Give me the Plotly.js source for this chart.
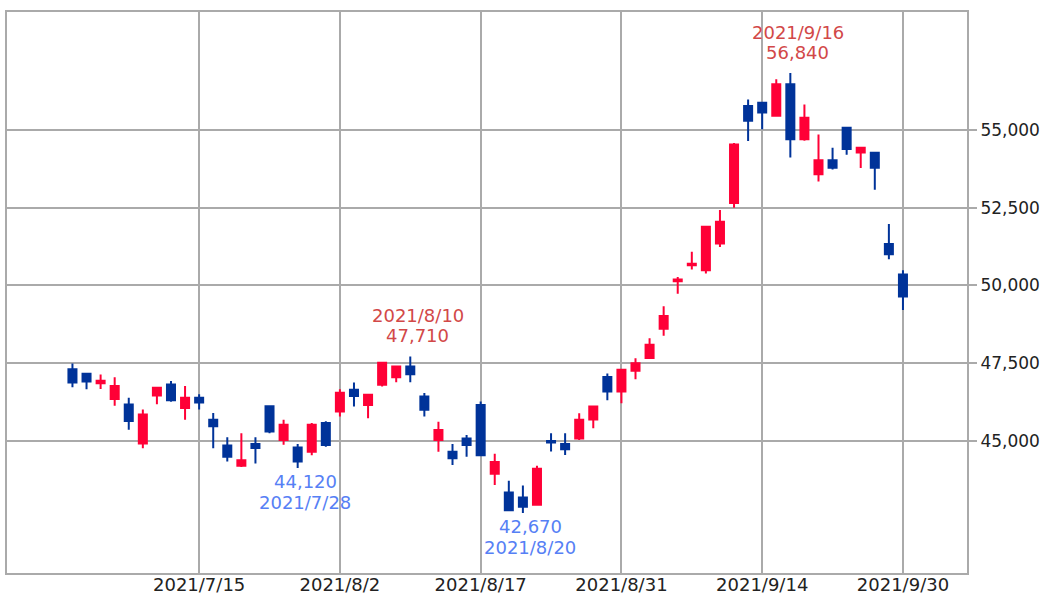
<!DOCTYPE html>
<html>
<head>
<meta charset="utf-8">
<script src="https://cdn.plot.ly/plotly-3.0.1.min.js"></script>
<style>
  html, body { margin: 0; padding: 0; background: #ffffff; }
  #chart { width: 1046px; height: 597px; }
</style>
</head>
<body>
<div id="chart"></div>
<script>
// Trading days (category axis)
var dates = ['2021/7/2','2021/7/5','2021/7/6','2021/7/7','2021/7/8','2021/7/9','2021/7/12','2021/7/13','2021/7/14','2021/7/15',
  '2021/7/16','2021/7/19','2021/7/20','2021/7/21','2021/7/26','2021/7/27','2021/7/28','2021/7/29','2021/7/30','2021/8/2',
  '2021/8/3','2021/8/4','2021/8/5','2021/8/6','2021/8/10','2021/8/11','2021/8/12','2021/8/13','2021/8/16','2021/8/17',
  '2021/8/18','2021/8/19','2021/8/20','2021/8/23','2021/8/24','2021/8/25','2021/8/26','2021/8/27','2021/8/30','2021/8/31',
  '2021/9/1','2021/9/2','2021/9/3','2021/9/6','2021/9/7','2021/9/8','2021/9/9','2021/9/10','2021/9/13','2021/9/14',
  '2021/9/15','2021/9/16','2021/9/17','2021/9/21','2021/9/22','2021/9/24','2021/9/27','2021/9/28','2021/9/29','2021/9/30'];

var openVals = [47300,47150,46850,46340,46160,44910,46450,46810,46050,46380,
  45670,44840,44190,44890,46110,45020,44780,44640,45570,45940,
  46640,46150,46800,47040,47390,46420,45020,44640,45070,46150,
  43930,43330,43170,42930,44990,44890,45070,45680,47050,46580,
  47250,47660,48600,50130,50650,50490,51350,52650,55780,55880,
  55460,56480,54710,53580,54030,55080,54280,54270,51330,50350];

var highVals = [47480,47160,47130,47040,46380,46000,46710,46920,46760,46490,
  45890,45110,45240,45110,46110,45670,44890,45570,45620,46650,
  46870,46480,47510,47400,47710,46530,45610,44890,45180,46260,
  44580,43710,43550,44190,45240,45240,45880,46100,47160,47280,
  47650,48300,49330,50270,51080,51890,52430,54590,55990,55880,
  56640,56840,55830,54860,54430,55080,54460,54270,51980,50490];

var lowVals = [46720,46650,46660,46120,45350,44750,46170,46250,45670,46000,
  44750,44330,44150,44260,45240,44870,44120,44530,44800,45780,
  46100,45720,46740,46880,46880,45780,44640,44210,44480,44530,
  43570,42760,42670,42900,44650,44540,45020,45400,46300,46200,
  46980,47660,48380,49730,50510,50380,51240,52500,54650,55030,
  55460,54120,54660,53350,53730,54210,53780,53080,50840,49210];

var closeVals = [46870,46900,46930,46760,45630,45840,46700,46300,46380,46230,
  45460,44480,44370,44760,45290,45510,44330,45510,44860,46540,
  46440,46480,47510,47390,47140,45990,45340,44430,44860,44530,
  44310,42760,42870,44090,44940,44720,45670,46100,46580,47280,
  47490,48090,49010,50190,50700,51890,52050,54540,55300,55570,
  56480,54710,55400,54030,53790,54390,54430,53790,51000,49640];

var xTickLabels = ['2021/7/15','2021/8/2','2021/8/17','2021/8/31','2021/9/14','2021/9/30'];
var yTickVals = [45000, 47500, 50000, 52500, 55000];

// Highlighted extremes
var highNotes = [['2021/8/10', 47710], ['2021/9/16', 56840]];
var lowNotes = [['2021/7/28', 44120], ['2021/8/20', 42670]];

var RED = '#ff0036';
var BLUE = '#003399';
var FONT = 'DejaVu Sans, Verdana, sans-serif';
var FS = 18;

var trace = {
  type: 'candlestick',
  x: dates,
  open: openVals,
  high: highVals,
  low: lowVals,
  close: closeVals,
  increasing: {line: {color: RED, width: 2}, fillcolor: RED},
  decreasing: {line: {color: BLUE, width: 2}, fillcolor: BLUE},
  whiskerwidth: 0,
  hoverinfo: 'skip',
  showlegend: false
};

function fmt(v) { return v.toLocaleString('en-US'); }

function note(x, y, text, shift, color) {
  return {
    x: x, y: y, xref: 'x', yref: 'y',
    text: text,
    showarrow: false, xanchor: 'center', yanchor: 'middle', align: 'center',
    xshift: 7.5, yshift: shift,
    font: {family: FONT, size: FS, color: color}
  };
}

var annotations = [];
highNotes.forEach(function (n) {
  annotations.push(note(n[0], n[1], n[0], 41, '#d24848'));
  annotations.push(note(n[0], n[1], fmt(n[1]), 21, '#d24848'));
});
lowNotes.forEach(function (n) {
  annotations.push(note(n[0], n[1], fmt(n[1]), -14, '#5680f5'));
  annotations.push(note(n[0], n[1], n[0], -34.5, '#5680f5'));
});

var layout = {
  width: 1046, height: 597,
  margin: {l: 7, r: 79, t: 12, b: 24, pad: 0},
  paper_bgcolor: '#ffffff',
  plot_bgcolor: '#ffffff',
  font: {family: FONT, size: FS, color: '#222222'},
  boxgap: 0.43,
  boxgroupgap: 0,
  xaxis: {
    type: 'category',
    range: [-4.65, 63.55],
    rangeslider: {visible: false},
    tickmode: 'array',
    tickvals: xTickLabels,
    ticktext: xTickLabels,
    ticks: '',
    ticklabelstandoff: -6,
    showgrid: true, gridcolor: '#aaaaaa', gridwidth: 2,
    showline: true, linecolor: '#aaaaaa', linewidth: 2, mirror: true,
    zeroline: false,
    tickfont: {family: FONT, size: FS, color: '#222222'},
    fixedrange: true
  },
  yaxis: {
    side: 'right',
    range: [40735, 58806],
    tickmode: 'array',
    tickvals: yTickVals,
    tickformat: ',d',
    ticks: 'outside', ticklen: 8, tickwidth: 2, tickcolor: '#aaaaaa',
    ticklabelstandoff: 0,
    showgrid: true, gridcolor: '#aaaaaa', gridwidth: 2,
    showline: true, linecolor: '#aaaaaa', linewidth: 2, mirror: true,
    zeroline: false,
    tickfont: {family: FONT, size: 17, color: '#222222'},
    fixedrange: true
  },
  annotations: annotations
};

Plotly.newPlot('chart', [trace], layout, {displayModeBar: false, staticPlot: true});
</script>
</body>
</html>
